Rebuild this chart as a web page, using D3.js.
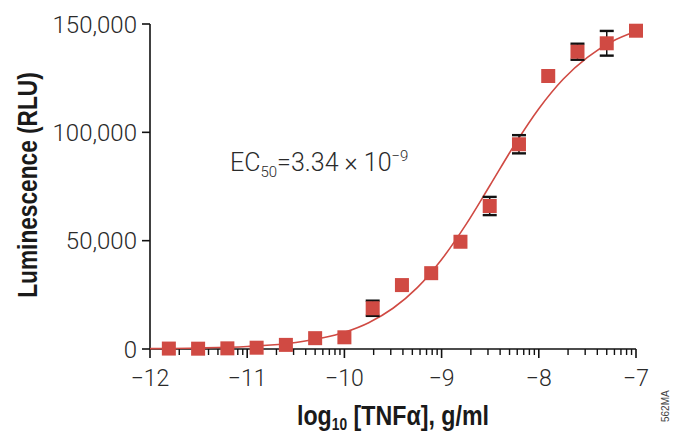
<!DOCTYPE html>
<html>
<head>
<meta charset="utf-8">
<script src="https://cdn.jsdelivr.net/npm/d3@7"></script>
<style>
  html, body { margin: 0; padding: 0; background: #fff; }
  svg { display: block; }
  .tick-label { font-family: Roboto, "Liberation Sans", Arial, sans-serif; font-weight: 300; fill: #2a2a2a; }
  .axis-title { font-family: "Liberation Sans", Arial, sans-serif; font-weight: bold; fill: #1a1a1a; }
</style>
</head>
<body>
<script>
// ---- data ----
const logConc = [-11.806, -11.505, -11.204, -10.903, -10.602, -10.301, -10.0, -9.709, -9.408, -9.107, -8.806, -8.505, -8.204, -7.903, -7.602, -7.301, -7.0];
const luminescence = [200, 150, 300, 600, 1900, 5000, 5400, 18800, 29500, 35000, 49500, 66000, 94500, 126000, 137200, 141100, 146900];
const errorBars = [0, 0, 0, 0, 0, 0, 0, 3500, 0, 0, 0, 4200, 4200, 0, 3700, 5700, 0];
// fitted curve
const curveX = [-12, -11.5, -11, -10.5, -10, -9.75, -9.5, -9.25, -9, -8.75, -8.5, -8.25, -8, -7.75, -7.5, -7.25, -7];
const curveY = [170, 450, 1170, 3030, 7700, 12150, 18800, 28300, 41300, 57400, 75700, 94200, 110900, 124500, 134600, 141800, 146600];
const xTicks = [-12, -11, -10, -9, -8, -7];
const xTickLabels = ["\u221212", "\u221211", "\u221210", "\u22129", "\u22128", "\u22127"];
const yTicks = [0, 50000, 100000, 150000];
const yTickLabels = ["0", "50,000", "100,000", "150,000"];

const W = 675, H = 439;
const red = "#d04a43";

const svg = d3.select("body").append("svg").attr("width", W).attr("height", H);

const x = d3.scaleLinear().domain([-12, -7]).range([150, 636]);
const y = d3.scaleLinear().domain([0, 150000]).range([349, 24]);

// minor ticks positions (log of 2..9 within each decade)
const minor = [];
for (let d = -12; d < -7; d++) for (let k = 2; k <= 9; k++) minor.push(d + Math.log10(k));

// x axis
const gx = svg.append("g").attr("transform", `translate(0,${y(0)})`);
gx.append("line").attr("x1", x(-12)).attr("x2", x(-7)).attr("stroke", "#111").attr("stroke-width", 1.6);
gx.selectAll("line.minor").data(minor).join("line").attr("class", "minor")
  .attr("x1", d => x(d)).attr("x2", d => x(d)).attr("y1", 0).attr("y2", 6)
  .attr("stroke", "#111").attr("stroke-width", 1.4);
gx.selectAll("line.major").data(xTicks).join("line").attr("class", "major")
  .attr("x1", d => x(d)).attr("x2", d => x(d)).attr("y1", 0).attr("y2", 9)
  .attr("stroke", "#111").attr("stroke-width", 1.6);
gx.selectAll("text").data(xTicks).join("text").attr("class", "tick-label")
  .attr("x", d => x(d)).attr("y", 37).attr("text-anchor", "middle")
  .attr("font-size", 23).text((d, i) => xTickLabels[i]);

// y axis
const gy = svg.append("g").attr("transform", `translate(${x(-12)},0)`);
gy.append("line").attr("y1", y(150000)).attr("y2", y(0)).attr("stroke", "#111").attr("stroke-width", 1.6);
gy.selectAll("line.tk").data(yTicks).join("line").attr("class", "tk")
  .attr("x1", -8).attr("x2", 0).attr("y1", d => y(d)).attr("y2", d => y(d))
  .attr("stroke", "#111").attr("stroke-width", 1.6);
gy.selectAll("text").data(yTicks).join("text").attr("class", "tick-label")
  .attr("x", -13).attr("y", d => y(d)).attr("dy", "0.36em").attr("text-anchor", "end")
  .attr("font-size", 24).text((d, i) => yTickLabels[i]);

// fitted curve
const line = d3.line().x(d => x(d[0])).y(d => y(d[1])).curve(d3.curveMonotoneX);
svg.append("path").datum(curveX.map((v, i) => [v, curveY[i]]))
  .attr("d", line).attr("fill", "none").attr("stroke", red).attr("stroke-width", 1.6);

// error bars
const pts = logConc.map((v, i) => ({ x: v, y: luminescence[i], e: errorBars[i] }));
const eb = svg.append("g").selectAll("g").data(pts.filter(d => d.e > 0)).join("g");
eb.append("line").attr("x1", d => x(d.x)).attr("x2", d => x(d.x))
  .attr("y1", d => y(d.y - d.e)).attr("y2", d => y(d.y + d.e)).attr("stroke", "#111").attr("stroke-width", 1.5);
[-1, 1].forEach(s => {
  eb.append("line").attr("x1", d => x(d.x) - 7).attr("x2", d => x(d.x) + 7)
    .attr("y1", d => y(d.y + s * d.e)).attr("y2", d => y(d.y + s * d.e))
    .attr("stroke", "#111").attr("stroke-width", 2.4);
});

// markers
const sz = 14;
svg.append("g").selectAll("rect").data(pts).join("rect")
  .attr("x", d => x(d.x) - sz / 2).attr("y", d => y(d.y) - sz / 2)
  .attr("width", sz).attr("height", sz).attr("fill", red);

// EC50 annotation
const ec = svg.append("text").attr("class", "tick-label").attr("x", 230).attr("y", 171).attr("font-size", 25);
ec.append("tspan").text("EC");
ec.append("tspan").attr("font-size", 15).attr("dy", 6).text("50");
ec.append("tspan").attr("dy", -6).text("=3.34 \u00d7 10");
ec.append("tspan").attr("font-size", 15).attr("dy", -10).text("\u22129");

// axis titles (bold, horizontally condensed)
svg.append("g").attr("transform", "translate(37,185) rotate(-90) scale(0.84,1)")
  .append("text").attr("class", "axis-title").attr("text-anchor", "middle")
  .attr("font-size", 27).text("Luminescence (RLU)");

const xt = svg.append("g").attr("transform", "translate(393,425) scale(0.86,1)")
  .append("text").attr("class", "axis-title").attr("text-anchor", "middle").attr("font-size", 27);
xt.append("tspan").text("log");
xt.append("tspan").attr("font-size", 16).attr("dy", 5).text("10");
xt.append("tspan").attr("dy", -5).text(" [TNF\u03b1], g/ml");

// figure code
svg.append("text").attr("transform", "translate(669,422) rotate(-90)")
  .attr("font-family", "Liberation Sans, Arial, sans-serif").attr("font-size", 10).attr("fill", "#444")
  .text("562MA");
</script>
</body>
</html>
